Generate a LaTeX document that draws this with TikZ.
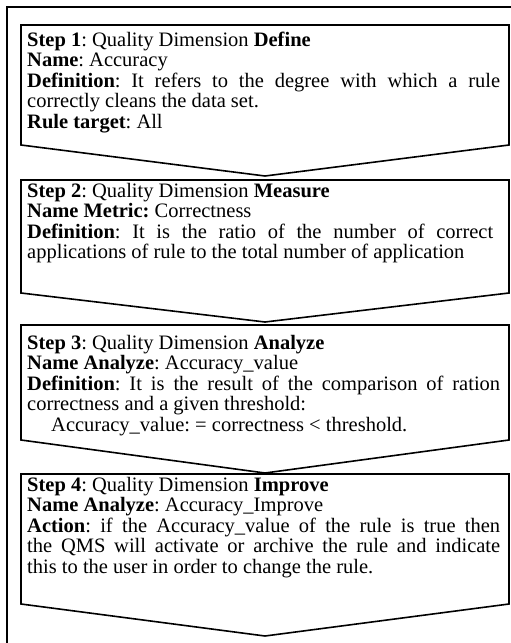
\documentclass[tikz,border=0pt]{standalone}
\usepackage{fontspec}
\setmainfont{Liberation Serif}
\frenchspacing
\begin{document}
\begin{tikzpicture}[x=1pt,y=-1pt]
\tikzset{
 chev/.style={draw=black, line width=1.6pt, line join=miter},
 frameline/.style={draw=black, line width=1.3pt},
 txt/.style={anchor=base west, inner sep=0pt, text width=473pt, align=justify, font=\fontsize{20.5}{20.6}\selectfont\frenchspacing},
}
\useasboundingbox (0,0) rectangle (511,643);
\draw[frameline] (7,650) -- (7,7) -- (520,7);
% chevrons
\draw[chev] (21,25) -- (509,25) -- (509,145) -- (265,176) -- (21,145) -- cycle;
\draw[chev] (21,180) -- (509,180) -- (509,293) -- (265,322) -- (21,293) -- cycle;
\draw[chev] (21,325) -- (509,325) -- (509,440) -- (265,473) -- (21,440) -- cycle;
\draw[chev] (21,474) -- (509,474) -- (509,604) -- (265,636) -- (21,604) -- cycle;
% texts
\node[txt] (t1) at (27,46) {\textbf{Step 1}: Quality Dimension \textbf{Define}\\
\textbf{Name}: Accuracy\\
\textbf{Definition}: It refers to the degree with which a rule\linebreak
correctly cleans the data set.\\
\textbf{Rule target}: All};
\node[txt, text width=466pt] (t2) at (27,197) {\textbf{Step 2}: Quality Dimension \textbf{Measure}\\
\textbf{Name Metric:} Correctness\\
\textbf{Definition}: It is the ratio of the number of correct\linebreak
applications of rule to the total number of application};
\node[txt] (t3) at (27,349) {\textbf{Step 3}: Quality Dimension \textbf{Analyze}\\
\textbf{Name Analyze}: Accuracy\_value\\
\textbf{Definition}: It is the result of the comparison of ration\linebreak
correctness and a given threshold:\\
\hspace*{24pt}Accuracy\_value: = correctness \textless{} threshold.};
\node[txt] (t4) at (27,491) {\textbf{Step 4}: Quality Dimension \textbf{Improve}\\
\textbf{Name Analyze}: Accuracy\_Improve\\
\textbf{Action}: if the Accuracy\_value of the rule is true then\linebreak
the QMS will activate or archive the rule and indicate\linebreak
this to the user in order to change the rule.};
\end{tikzpicture}
\end{document}
